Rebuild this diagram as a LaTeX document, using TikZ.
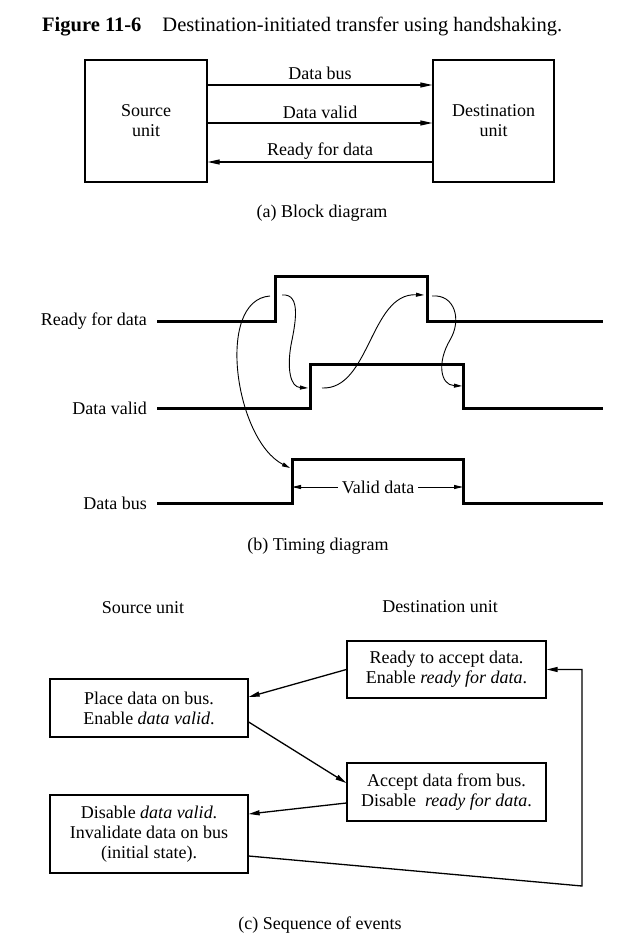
\documentclass[tikz,border=0pt]{standalone}
\usepackage{fontspec}
\setmainfont{Liberation Serif}
\usetikzlibrary{arrows.meta}
\begin{document}
\begin{tikzpicture}[x=1pt,y=-1pt,
  every node/.style={font=\fontsize{18}{20}\selectfont, inner sep=0pt},
  box/.style={draw, line width=1.3pt, align=center},
  sig/.style={line width=3pt, line join=miter},
  bigarrow/.style={line width=1.2pt, -{Triangle[length=12pt,width=5pt]}},
  evarrow/.style={line width=1.3pt, -{Triangle[length=11pt,width=5pt]}},
  curvearrow/.style={line width=0.9pt, -{Triangle[length=8pt,width=4pt]}},
  lblarrow/.style={line width=0.9pt, -{Triangle[length=9pt,width=4pt]}}]
\fill[white] (0,0) rectangle (644,950);
\useasboundingbox (0,0) rectangle (644,950);

% title
\node[anchor=base west, font=\fontsize{20.5}{23}\selectfont] (title) at (42,32) {\textbf{Figure 11-6}\hspace{21pt}Destination-initiated transfer using handshaking.};

% (a) block diagram
\node[box, minimum width=122pt, minimum height=122pt] (src) at (146,121) {Source\\unit};
\node[box, minimum width=121pt, minimum height=122pt] (dst) at (493.5,121) {Destination\\unit};
\draw[bigarrow] ([yshift=36pt]src.east) -- ([yshift=36pt]dst.west)
  node[pos=0.5, anchor=base, yshift=6pt] (lbus) {Data bus};
\draw[bigarrow] ([yshift=-2pt]src.east) -- ([yshift=-2pt]dst.west)
  node[pos=0.5, anchor=base, yshift=5pt] (lvalid) {Data valid};
\draw[bigarrow] ([yshift=-41pt]dst.west) -- ([yshift=-41pt]src.east)
  node[pos=0.5, anchor=base, yshift=7pt] (lready) {Ready for data};
\node (capa) at (322,213) {(a) Block diagram};

% (b) timing diagram
\node[anchor=east] (tr) at (147,321) {Ready for data};
\node[anchor=east] (tv) at (147,408) {Data valid};
\node[anchor=east] (tb) at (147,503) {Data bus};
\draw[sig] (157,321) -- (275,321) -- (275,276) -- (427,276) -- (427,321) -- (603,321);
\draw[sig] (157,408) -- (310,408) -- (310,364) -- (463,364) -- (463,408) -- (603,408);
\draw[sig] (157,503) -- (292,503) -- (292,459) -- (463,459) -- (463,503) -- (603,503);

\coordinate (r1) at (270,296);
\coordinate (b1) at (290,468);
\coordinate (r2) at (282,295);
\coordinate (v1) at (308,388);
\coordinate (v2) at (322,388);
\coordinate (r3) at (424,295);
\coordinate (r4) at (432,296);
\coordinate (v3) at (462,386);
\draw[curvearrow] (r1) .. controls (215,300) and (235,440) .. (b1);
\draw[curvearrow] (r2) .. controls (302,293) and (295,325) .. (291,345)
   .. controls (287,368) and (290,387) .. (v1);
\draw[curvearrow] (v2) .. controls (370,390) and (370,293) .. (r3);
\draw[curvearrow] (r4) .. controls (455,294) and (462,320) .. (450,340)
   .. controls (437,362) and (440,385) .. (v3);

\node (vd) at (378,487) {Valid data};
\coordinate (vdl) at (292,487);
\coordinate (vdr) at (463,487);
\draw[lblarrow] ([xshift=-4pt]vd.west) -- (vdl);
\draw[lblarrow] ([xshift=4pt]vd.east) -- (vdr);
\node (capb) at (318,546) {(b) Timing diagram};

% (c) sequence of events
\node (hs) at (143,608) {Source unit};
\node (hd) at (440,607) {Destination unit};
\node[box, minimum width=198pt, minimum height=58pt] (place) at (149,708)
  {Place data on bus.\\Enable \textit{data valid}.};
\node[box, minimum width=198pt, minimum height=78pt] (disable) at (149,834)
  {Disable \textit{data valid}.\\Invalidate data on bus\\(initial state).};
\node[box, minimum width=199pt, minimum height=57pt] (ready) at (446.5,669.5)
  {Ready to accept data.\\Enable \textit{ready for data}.};
\node[box, minimum width=199pt, minimum height=58pt] (accept) at (446.5,792)
  {Accept data from bus.\\Disable\enspace\textit{ready for data}.};
\draw[evarrow] (ready.west) -- ([yshift=11pt]place.east);
\draw[evarrow] ([yshift=-14pt]place.east) -- ([yshift=9pt]accept.west);
\draw[evarrow] ([yshift=-11pt]accept.west) -- ([yshift=20pt]disable.east);
\coordinate (loop) at (582,886);
\draw[evarrow] ([yshift=-22pt]disable.east) -- (loop) |- (ready.east);
\node (capc) at (320,925) {(c) Sequence of events};
\end{tikzpicture}
\end{document}
